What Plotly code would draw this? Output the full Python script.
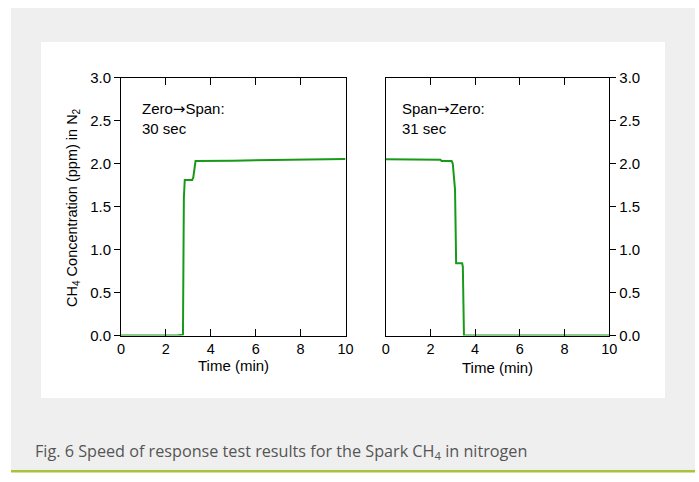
import plotly.graph_objects as go

# Data
zero_to_span_t = [0, 2.5, 2.76, 2.80, 2.84, 3.17, 3.22, 3.26, 3.32, 5.0, 8.0, 10.0]
zero_to_span_c = [0.0, 0.0, 0.01, 1.60, 1.81, 1.81, 1.84, 1.95, 2.03, 2.035, 2.05, 2.055]

span_to_zero_t = [0, 2.45, 2.5, 2.95, 3.0, 3.05, 3.1, 3.13, 3.15, 3.42, 3.45, 3.5, 6.0, 10.0]
span_to_zero_c = [2.05, 2.045, 2.03, 2.03, 2.0, 1.88, 1.70, 1.20, 0.84, 0.84, 0.80, 0.0, 0.0, 0.0]

x_ticks = [0, 2, 4, 6, 8, 10]
y_ticks = [0.0, 0.5, 1.0, 1.5, 2.0, 2.5, 3.0]

W, H = 699, 482
def px(x): return x / W
def py(y): return 1 - y / H

LINE = "#179a17"
FONT = "Liberation Sans, Arial, sans-serif"
FS = 15
ARROW = '<span style="font-family:DejaVu Sans">→</span>'

fig = go.Figure()
fig.add_trace(go.Scatter(x=zero_to_span_t, y=zero_to_span_c, mode="lines",
                         line=dict(color=LINE, width=2), xaxis="x", yaxis="y",
                         showlegend=False, hoverinfo="skip"))
fig.add_trace(go.Scatter(x=span_to_zero_t, y=span_to_zero_c, mode="lines",
                         line=dict(color=LINE, width=2), xaxis="x2", yaxis="y2",
                         showlegend=False, hoverinfo="skip"))

ydom = [py(335.5), py(77.7)]
xcommon = dict(range=[0, 10], tickvals=x_ticks, ticks="inside", ticklen=7,
               tickcolor="black", showline=True, linecolor="black", linewidth=1,
               mirror="ticks", showgrid=False, zeroline=False, automargin=False,
               tickfont=dict(family=FONT, size=14.5, color="black"))
ycommon = dict(range=[0, 3], tickvals=y_ticks, tickformat=".1f", ticks="outside",
               ticklen=6, tickcolor="black", showline=True, linecolor="black",
               linewidth=1, mirror=True, showgrid=False, zeroline=False, automargin=False,
               tickfont=dict(family=FONT, size=FS, color="black"))

fig.update_layout(
    width=W, height=H,
    margin=dict(l=0, r=0, t=0, b=0, pad=0),
    paper_bgcolor="white", plot_bgcolor="rgba(0,0,0,0)",
    xaxis=dict(domain=[px(121), px(345.5)], anchor="y", **xcommon),
    yaxis=dict(domain=ydom, anchor="x", side="left", **ycommon),
    xaxis2=dict(domain=[px(385.7), px(609.3)], anchor="y2", **xcommon),
    yaxis2=dict(domain=ydom, anchor="x2", side="right", **ycommon),
    shapes=[
        dict(type="rect", xref="paper", yref="paper", x0=px(11), x1=px(695),
             y0=py(470), y1=py(8), fillcolor="#efefef", line_width=0, layer="below"),
        dict(type="rect", xref="paper", yref="paper", x0=px(41), x1=px(665),
             y0=py(398), y1=py(42), fillcolor="white", line_width=0, layer="below"),
        dict(type="rect", xref="paper", yref="paper", x0=px(11), x1=px(695),
             y0=py(472.5), y1=py(470), fillcolor="#a8c23c", line_width=0, layer="below"),
    ],
    annotations=[
        dict(text="CH<sub>4</sub> Concentration (ppm) in N<sub>2</sub>", textangle=-90,
             xref="paper", yref="paper", x=px(73), y=py(208), showarrow=False,
             xanchor="center", yanchor="middle",
             font=dict(family=FONT, size=14.5, color="black")),
        dict(text="Time (min)", xref="paper", yref="paper", x=px(233), y=py(365),
             showarrow=False, xanchor="center", yanchor="middle",
             font=dict(family=FONT, size=FS, color="black")),
        dict(text="Time (min)", xref="paper", yref="paper", x=px(497), y=py(367),
             showarrow=False, xanchor="center", yanchor="middle",
             font=dict(family=FONT, size=FS, color="black")),
        dict(text="Zero" + ARROW + "Span:<br>30 sec", xref="paper", yref="paper", x=px(140), y=py(98),
             showarrow=False, xanchor="left", yanchor="top", align="left",
             font=dict(family=FONT, size=FS, color="black")),
        dict(text="Span" + ARROW + "Zero:<br>31 sec", xref="paper", yref="paper", x=px(400), y=py(98),
             showarrow=False, xanchor="left", yanchor="top", align="left",
             font=dict(family=FONT, size=FS, color="black")),
        dict(text="Fig. 6 Speed of response test results for the Spark CH<sub>4</sub> in nitrogen",
             xref="paper", yref="paper", x=px(33), y=py(451), showarrow=False,
             xanchor="left", yanchor="middle",
             font=dict(family="Open Sans, sans-serif", size=16.2, color="#555555")),
    ],
)

fig.write_html("out.html", config={"displayModeBar": False},
               post_script="document.body.style.margin='0';document.body.style.padding='0';")
